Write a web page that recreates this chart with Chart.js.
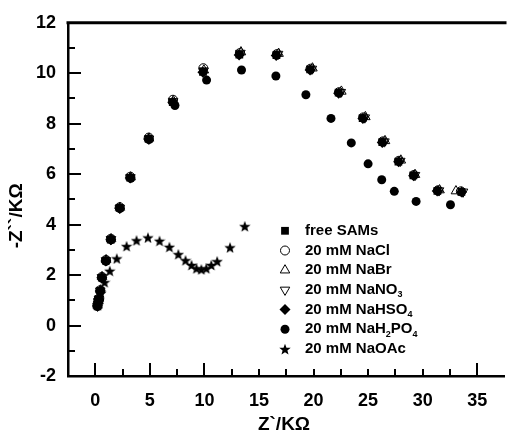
<!DOCTYPE html>
<html>
<head>
<meta charset="utf-8">
<script src="https://cdn.jsdelivr.net/npm/chart.js@4.4.1/dist/chart.umd.min.js"></script>
<style>
html, body { margin: 0; padding: 0; background: #fff; overflow: hidden; }
#wrap { width: 511px; height: 431px; position: relative; }
</style>
</head>
<body>
<div id="wrap"><canvas id="nyquist"></canvas></div>
<script>
// Nyquist points, [Z' , -Z''] in kOhm
const freeSAMs = [[0.20,0.78],[0.28,0.95],[0.32,1.05],[0.45,1.38],[0.60,1.90],[0.97,2.57],[1.42,3.41],[2.23,4.66],[3.20,5.86],[4.89,7.40],[7.10,8.86],[9.87,10.06],[13.20,10.74],[16.60,10.72],[19.69,10.15],[22.30,9.23],[24.50,8.22],[26.30,7.27],[27.78,6.50],[29.15,5.95],[31.35,5.34],[33.55,5.30]];
const naCl = [[0.20,0.80],[0.28,0.97],[0.33,1.07],[0.46,1.40],[0.61,1.93],[0.98,2.60],[1.43,3.44],[2.24,4.69],[3.21,5.90],[4.90,7.45],[7.12,8.95],[9.90,10.20],[13.25,10.80],[16.65,10.76],[19.72,10.18],[22.33,9.25],[24.55,8.25],[26.35,7.30],[27.82,6.53],[29.20,5.97],[31.40,5.36],[33.50,5.32]];
const naBr = [[0.21,0.80],[0.29,0.98],[0.34,1.08],[0.47,1.40],[0.62,1.93],[0.99,2.60],[1.45,3.43],[2.26,4.68],[3.24,5.88],[4.93,7.42],[7.15,8.90],[9.95,10.12],[13.35,10.84],[16.80,10.78],[19.90,10.20],[22.55,9.28],[24.75,8.27],[26.55,7.32],[28.00,6.55],[29.30,5.98],[31.55,5.37],[33.05,5.33]];
const naNO3 = [[0.21,0.78],[0.29,0.96],[0.33,1.06],[0.46,1.38],[0.61,1.91],[0.98,2.58],[1.44,3.42],[2.25,4.66],[3.22,5.87],[4.92,7.40],[7.14,8.88],[9.93,10.10],[13.30,10.80],[16.75,10.76],[19.85,10.17],[22.50,9.25],[24.70,8.24],[26.50,7.29],[27.95,6.52],[29.30,5.96],[31.50,5.35],[33.70,5.30]];
const naHSO4 = [[0.20,0.77],[0.28,0.94],[0.32,1.04],[0.45,1.37],[0.60,1.89],[0.97,2.56],[1.42,3.40],[2.23,4.65],[3.20,5.85],[4.88,7.39],[7.10,8.85],[9.86,10.04],[13.18,10.72],[16.58,10.70],[19.68,10.13],[22.30,9.21],[24.52,8.21],[26.30,7.26],[27.80,6.49],[29.17,5.94],[31.33,5.33],[33.57,5.29]];
const naH2PO4 = [[0.20,0.75],[0.28,0.92],[0.32,1.02],[0.46,1.36],[0.62,1.88],[0.98,2.55],[1.45,3.40],[2.25,4.64],[3.25,5.84],[4.92,7.37],[7.30,8.72],[10.20,9.73],[13.40,10.13],[16.55,9.89],[19.30,9.15],[21.60,8.21],[23.46,7.24],[25.00,6.41],[26.25,5.78],[27.40,5.32],[29.40,4.92],[32.55,4.79]];
const naOAc = [[0.22,0.80],[0.32,1.02],[0.50,1.30],[0.85,1.72],[1.33,2.17],[1.97,2.66],[2.87,3.15],[3.78,3.38],[4.83,3.49],[5.89,3.36],[6.79,3.12],[7.61,2.83],[8.27,2.59],[8.82,2.40],[9.27,2.27],[9.72,2.23],[10.17,2.27],[10.63,2.40],[11.17,2.55],[12.35,3.10],[13.70,3.94]];

const seriesNames = ['free SAMs', '20 mM NaCl', '20 mM NaBr', '20 mM NaNO₃', '20 mM NaHSO₄', '20 mM NaH₂PO₄', '20 mM NaOAc'];

const xTicks = [0, 5, 10, 15, 20, 25, 30, 35];
const xMinorTicks = [-2.5, 2.5, 7.5, 12.5, 17.5, 22.5, 27.5, 32.5];
const xLongTicks = [0, 5, 10, 35];
const yTicks = [-2, 0, 2, 4, 6, 8, 10, 12];
const yMinorTicks = [-1, 1, 3, 5, 7, 9, 11];

const FONT = '"Liberation Sans", Arial, Helvetica, sans-serif';
const SUB = '₀₁₂₃₄₅₆₇₈₉';

// filled five-point star for the NaOAc points
function makeStar(size) {
  const c = document.createElement('canvas');
  c.width = size; c.height = size;
  const g = c.getContext('2d');
  const cx = size / 2, cy = size / 2 + size * 0.06, R = size / 2, r = R * 0.42;
  g.beginPath();
  for (let i = 0; i < 10; i++) {
    const a = -Math.PI / 2 + i * Math.PI / 5;
    const rad = i % 2 ? r : R;
    g.lineTo(cx + rad * Math.cos(a), cy + rad * Math.sin(a));
  }
  g.closePath();
  g.fillStyle = '#000';
  g.fill();
  return c;
}
const star = makeStar(12);

const toXY = arr => arr.map(p => ({x: p[0], y: p[1]}));

function series(i, pts, style, radius, filled, extra) {
  return Object.assign({
    label: seriesNames[i],
    data: toXY(pts),
    pointStyle: style,
    pointRadius: radius,
    pointHoverRadius: radius,
    backgroundColor: filled ? '#000' : 'rgba(0,0,0,0)',
    borderColor: '#000',
    borderWidth: filled ? 0 : 1,
    order: filled ? 1 : 2,
    showLine: false
  }, extra || {});
}

const datasets = [
  series(0, freeSAMs, 'rect', 5.5, true),
  series(1, naCl, 'circle', 4.5, false),
  series(2, naBr, 'triangle', 5.5, false),
  series(3, naNO3, 'triangle', 5.5, false, {rotation: 180}),
  series(4, naHSO4, 'rectRot', 5.5, true),
  series(5, naH2PO4, 'circle', 4.5, true),
  series(6, naOAc, star, 6, true)
];

// text with subscript digits lowered and shrunk
function drawRich(ctx, text, x, y) {
  let cx = x;
  for (const ch of text) {
    const k = SUB.indexOf(ch);
    if (k >= 0) {
      ctx.font = 'bold 9px ' + FONT;
      ctx.fillText(String(k), cx, y + 5);
      cx += ctx.measureText(String(k)).width;
    } else {
      ctx.font = 'bold 15px ' + FONT;
      ctx.fillText(ch, cx, y);
      cx += ctx.measureText(ch).width;
    }
  }
}

// inward ticks, top frame line, axis titles and the in-plot legend
const decor = {
  id: 'decor',
  afterDraw(chart) {
    const {ctx, chartArea: a, scales: {x, y}} = chart;
    ctx.save();
    ctx.strokeStyle = '#000';
    ctx.lineWidth = 3;
    ctx.beginPath();
    ctx.moveTo(a.left - 1.5, a.top);
    ctx.lineTo(a.right + 2, a.top);
    ctx.stroke();

    ctx.lineWidth = 2;
    const tick = (x1, y1, x2, y2) => { ctx.beginPath(); ctx.moveTo(x1, y1); ctx.lineTo(x2, y2); ctx.stroke(); };
    xTicks.forEach(v => {
      const px = Math.round(x.getPixelForValue(v));
      tick(px, a.bottom, px, a.bottom - (xLongTicks.includes(v) ? 13 : 7));
    });
    xMinorTicks.forEach(v => {
      const px = Math.round(x.getPixelForValue(v));
      if (px > a.left + 2) tick(px, a.bottom, px, a.bottom - 7);
    });
    yTicks.forEach(v => {
      const py = Math.round(y.getPixelForValue(v));
      if (py > a.top + 2 && py < a.bottom - 2) tick(a.left, py, a.left + 13, py);
    });
    yMinorTicks.forEach(v => {
      const py = Math.round(y.getPixelForValue(v));
      tick(a.left, py, a.left + 7, py);
    });

    // axis titles
    ctx.fillStyle = '#000';
    ctx.font = 'bold 19px ' + FONT;
    ctx.textAlign = 'center';
    ctx.textBaseline = 'alphabetic';
    ctx.fillText('Z`/KΩ', a.left + 216, 430);
    ctx.save();
    ctx.translate(22, a.top + 193);
    ctx.rotate(-Math.PI / 2);
    ctx.fillText('-Z``/KΩ', 0, 0);
    ctx.restore();

    // legend
    const lx = a.left + 217, ly = a.top + 208, step = 19.7;
    chart.data.datasets.forEach((ds, i) => {
      const cy = ly + i * step;
      ctx.fillStyle = ds.backgroundColor === '#000' ? '#000' : '#fff';
      ctx.strokeStyle = '#000';
      ctx.lineWidth = ds.borderWidth;
      Chart.helpers.drawPoint(ctx, {
        pointStyle: ds.pointStyle,
        radius: ds.pointRadius,
        rotation: ds.rotation || 0,
        borderWidth: ds.borderWidth
      }, lx, cy);
      ctx.fillStyle = '#000';
      ctx.textAlign = 'left';
      ctx.textBaseline = 'middle';
      drawRich(ctx, ds.label, lx + 20, cy);
    });
    ctx.restore();
  }
};

new Chart(document.getElementById('nyquist'), {
  type: 'scatter',
  data: {datasets: datasets},
  options: {
    responsive: true,
    maintainAspectRatio: false,
    animation: false,
    layout: {padding: {top: 21, right: 0, left: 0, bottom: 0}},
    plugins: {legend: {display: false}, tooltip: {enabled: false}},
    scales: {
      x: {
        type: 'linear',
        min: -2.5,
        max: 37.5,
        afterFit: s => { s.height = 55; },
        afterBuildTicks: s => { s.ticks = xTicks.map(v => ({value: v})); },
        grid: {display: false, drawTicks: false},
        border: {display: true, color: '#000', width: 2.5},
        ticks: {color: '#000', padding: 14, maxRotation: 0, font: {family: FONT, size: 18, weight: 'bold'}}
      },
      y: {
        type: 'linear',
        min: -2,
        max: 12,
        afterFit: s => { s.width = 68; },
        afterBuildTicks: s => { s.ticks = yTicks.map(v => ({value: v})); },
        grid: {display: false, drawTicks: false},
        border: {display: true, color: '#000', width: 2.5},
        ticks: {color: '#000', padding: 12, font: {family: FONT, size: 18, weight: 'bold'}}
      }
    }
  },
  plugins: [decor]
});
</script>
</body>
</html>
